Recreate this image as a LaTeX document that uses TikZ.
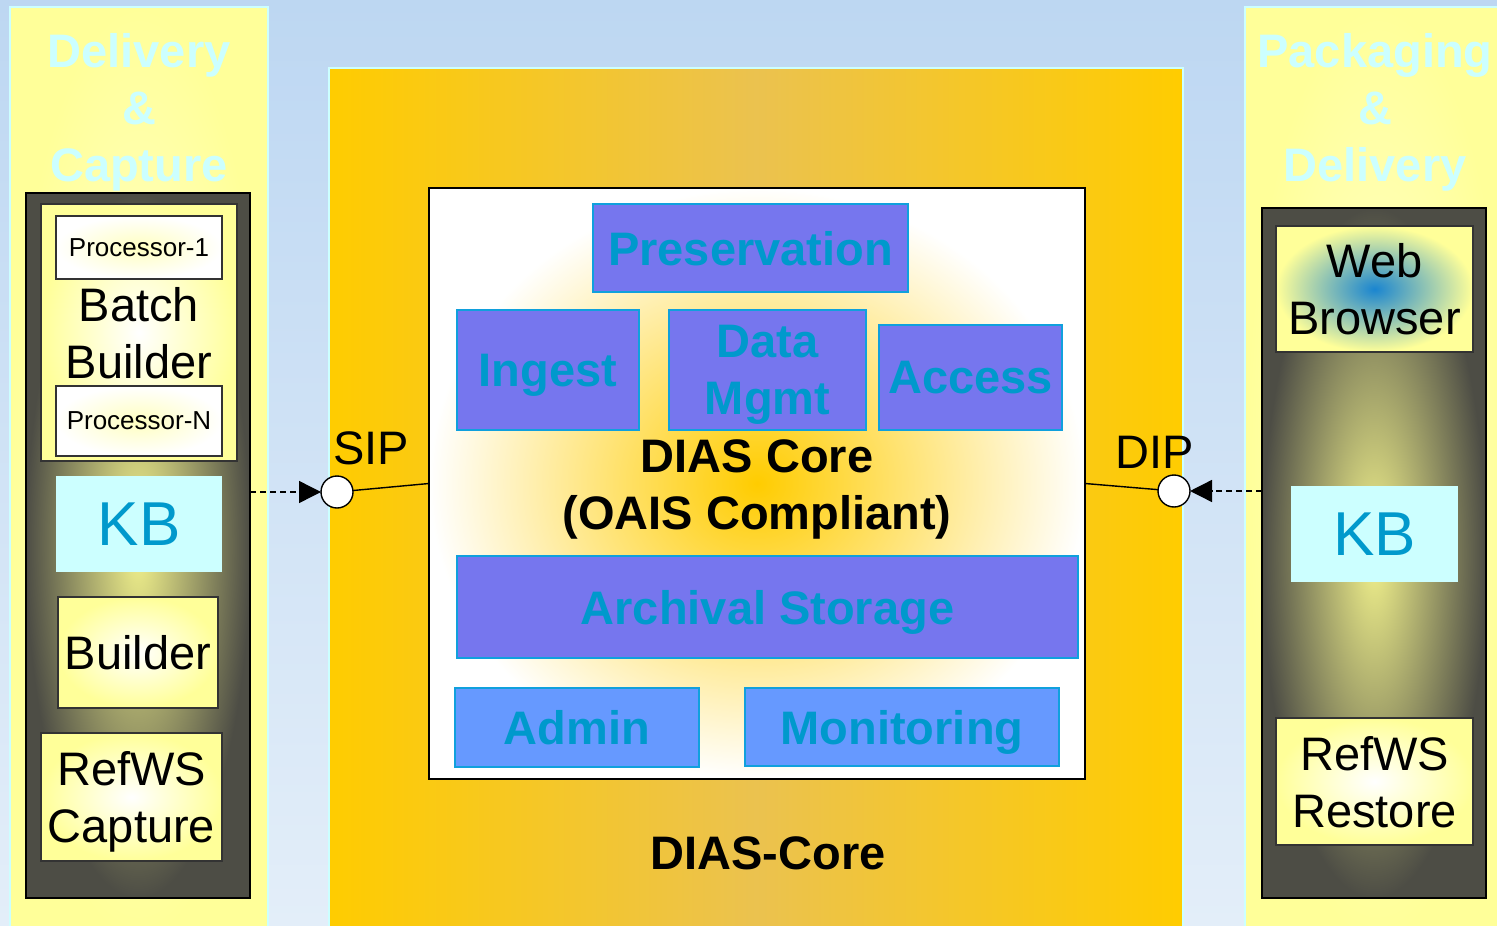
\documentclass[tikz,border=0pt]{standalone}
\usepackage{fontspec}
\setmainfont{Liberation Sans}
\usetikzlibrary{fit,arrows.meta}

\definecolor{bgtop}{HTML}{BDD7F2}
\definecolor{bgbot}{HTML}{E3EEF9}
\definecolor{panelfill}{HTML}{FFFF99}
\definecolor{panelmid}{HTML}{FFFFCC}
\definecolor{paneledge}{HTML}{CCFFFF}
\definecolor{darkfill}{HTML}{4D4D45}
\definecolor{glow}{HTML}{F2F28C}
\definecolor{procglow}{HTML}{FFFFC0}
\definecolor{kbfill}{HTML}{CCFFFF}
\definecolor{kbtext}{HTML}{0099CC}
\definecolor{coreorange}{HTML}{FFCC00}
\definecolor{orangemid}{HTML}{EBC24F}
\definecolor{oaisfill}{HTML}{7676EE}
\definecolor{oaisline}{HTML}{10A0DD}
\definecolor{oaistext}{HTML}{0099CC}
\definecolor{oaislight}{HTML}{6699FF}
\definecolor{webblue}{HTML}{1A85D0}

\newcommand{\boxfont}{\fontsize{23.5}{28.5}\selectfont}
\newcommand{\procfont}{\fontsize{13}{15}\selectfont}
\newcommand{\kbfont}{\fontsize{31}{36}\selectfont}

\begin{document}
\begin{tikzpicture}[x=0.5pt, y=-0.5pt,
    every node/.style={inner sep=0pt, outer sep=0pt},
    panel/.style={draw=paneledge, line width=1pt, inner color=panelmid, outer color=panelfill},
    title/.style={text=paneledge, font=\bfseries\boxfont, align=center},
    darkbox/.style={draw=black, line width=1pt, inner color=glow, outer color=darkfill},
    yellowbox/.style={draw=black!80, line width=0.8pt, inner color=white, outer color=panelfill},
    procbox/.style={draw=black!80, line width=0.8pt, inner color=procglow, outer color=white},
    kbbox/.style={fill=kbfill},
    oais/.style={fill=oaisfill, draw=oaisline, line width=1pt},
    port/.style={circle, draw, fill=white, minimum size=16pt, line width=0.7pt},
    plain/.style={font=\boxfont, align=center, text depth=0pt},
    proctext/.style={font=\procfont},
    kbtag/.style={text=kbtext, font=\kbfont},
    oaistag/.style={text=oaistext, font=\bfseries\boxfont, align=center, text depth=0pt},
    feed/.style={dashed, dash pattern=on 3pt off 2pt, line width=0.7pt, -{Triangle[length=11pt,width=11pt]}}]

\useasboundingbox (0,0) rectangle (1497,925);
% background
\fill[top color=bgtop, bottom color=bgbot] (0,0) rectangle (1497,925);

% left panel: delivery and capture
\node[panel, fit={(10,7) (268,940)}] (delcap) {};
\node[title] (delcaptitle) at (139,112) {Delivery\\\&\\Capture};
\node[darkbox, fit={(26,193) (250,898)}] (capstack) {};
\node[yellowbox, fit={(41,204) (237,461)}, label={[plain]center:Batch\\Builder}] (batch) {};
\node[procbox, fit={(56,216) (222,279)}, label={[proctext]center:Processor-1}] (proc1) {};
\node[procbox, fit={(56,386) (222,456)}, label={[proctext]center:Processor-N}] (procn) {};
\node[kbbox, fit={(56,476) (222,572)}, label={[kbtag]center:KB}] (kbleft) {};
\node[yellowbox, fit={(58,597) (218,708)}, label={[plain]center:Builder}] (builder) {};
\node[yellowbox, fit={(41,733) (222,861)}, label={[plain]center:RefWS\\Capture}] (capture) {};

% right panel: packaging and delivery
\node[panel, fit={(1245,7) (1510,940)}] (pkgdel) {};
\node[title] (pkgdeltitle) at (1375,112) {Packaging\\\&\\Delivery};
\node[darkbox, fit={(1262,208) (1486,898)}] (reststack) {};
\node[yellowbox, inner color=webblue, fit={(1276,226) (1473,352)}, label={[plain]center:Web\\Browser}] (browser) {};
\node[kbbox, fit={(1291,486) (1458,582)}, label={[kbtag]center:KB}] (kbright) {};
\node[yellowbox, fit={(1276,718) (1473,845)}, label={[plain]center:RefWS\\Restore}] (restore) {};

% middle: the core
\node[draw=paneledge, line width=1pt, left color=coreorange, right color=coreorange, middle color=orangemid, fit={(329,68) (1183,940)}] (diascore) {};
\node[draw=black, line width=0.8pt, inner color=coreorange, outer color=white, fit={(429,188) (1085,779)}] (oaiscore) {};
\node[font=\bfseries\boxfont, align=center] (oaistext) at (757,489) {DIAS Core\\(OAIS Compliant)};
\node[oais, fit={(593,204) (908,292)}, label={[oaistag]center:Preservation}] (preserv) {};
\node[oais, fit={(457,310) (639,430)}, label={[oaistag]center:Ingest}] (ingest) {};
\node[oais, fit={(669,310) (866,430)}, label={[oaistag]center:Data\\Mgmt}] (datamgmt) {};
\node[oais, fit={(879,325) (1062,430)}, label={[oaistag]center:Access}] (access) {};
\node[oais, fit={(457,556) (1078,658)}, label={[oaistag]center:Archival Storage}] (archive) {};
\node[oais, fill=oaislight, fit={(455,688) (699,767)}, label={[oaistag]center:Admin}] (admin) {};
\node[oais, fill=oaislight, fit={(745,688) (1059,766)}, label={[oaistag]center:Monitoring}] (monitor) {};
\node[font=\bfseries\boxfont] (corelabel) at (768,853) {DIAS-Core};

% packages in and out
\node[port] (sip) at (337,492) {};
\node[port] (dip) at (1174,491) {};
\node[font=\boxfont] (siplabel) at (371,448) {SIP};
\node[font=\boxfont] (diplabel) at (1155,452) {DIP};
\draw[line width=0.7pt] (oaiscore.west) -- (sip);
\draw[line width=0.7pt] (oaiscore.east) -- (dip);
\draw[feed] (sip -| capstack.east) -- (sip);
\draw[feed] (dip -| reststack.west) -- (dip);
\end{tikzpicture}
\end{document}
